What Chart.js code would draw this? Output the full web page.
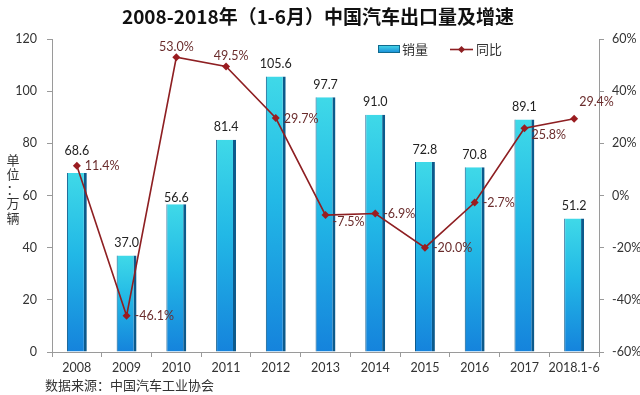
<!DOCTYPE html>
<html><head><meta charset="utf-8">
<script src="https://cdn.jsdelivr.net/npm/chart.js@4.4.0/dist/chart.umd.min.js"></script>
<style>html,body{margin:0;padding:0;background:#fff}#wrap{position:relative;width:640px;height:395px}</style>
</head><body><div id="wrap"><canvas id="c" width="640" height="395"></canvas></div>
<script>
const categories = ['2008','2009','2010','2011','2012','2013','2014','2015','2016','2017','2018.1-6'];
const salesVolume = [68.6, 37.0, 56.6, 81.4, 105.6, 97.7, 91.0, 72.8, 70.8, 89.1, 51.2];
const yoyGrowth = [11.4, -46.1, 53.0, 49.5, 29.7, -7.5, -6.9, -20.0, -2.7, 25.8, 29.4];
const seriesNames = ['销量', '同比'];
const chartTitle = '2008-2018年（1-6月）中国汽车出口量及增速';
const axisUnit = '单位：万辆';
const sourceNote = '数据来源：中国汽车工业协会';

// label placement styling (not data)
const lineLabelPlacement = ['right','right','above','above','right','belowRight','right','right','right','belowRight','aboveRight'];
const barLabelNudge = {0: -10, 2: 6};

const LATIN = 'Lato, "Noto Sans", sans-serif';
const CJK = '"Noto Sans CJK SC", "Noto Sans", sans-serif';

function barFill(ctx) {
  const ch = ctx.chart;
  if (!ch.chartArea || ctx.raw == null) return '#1fa8e0';
  const ys = ch.scales.y;
  const top = ys.getPixelForValue(ctx.raw);
  const bottom = ys.getPixelForValue(0);
  const g = ch.ctx.createLinearGradient(0, top, 0, bottom);
  g.addColorStop(0, '#3fd9e8');
  g.addColorStop(0.45, '#22b8e6');
  g.addColorStop(1, '#1583dc');
  return g;
}

const decor = {
  id: 'decor',
  afterDraw(chart) {
    const c = chart.ctx;
    const xs = chart.scales.x;
    c.save();
    // title
    c.fillStyle = '#111';
    c.font = 'bold 19px ' + CJK;
    c.textAlign = 'center';
    c.textBaseline = 'middle';
    c.fillText(chartTitle, 318, 17);

    // legend
    const lg = c.createLinearGradient(0, 45, 0, 53);
    lg.addColorStop(0, '#48dbe8'); lg.addColorStop(1, '#1689d8');
    c.fillStyle = '#0f6a8e';
    c.fillRect(378, 45, 22, 8);
    c.fillStyle = lg;
    c.fillRect(379, 46, 20, 6);
    c.font = '13px ' + CJK;
    c.fillStyle = '#333';
    c.textAlign = 'left';
    c.fillText(seriesNames[0], 402, 49);
    c.strokeStyle = '#8e1f22';
    c.lineWidth = 1.6;
    c.beginPath(); c.moveTo(450, 49.5); c.lineTo(473, 49.5); c.stroke();
    c.fillStyle = '#8e1f22';
    c.beginPath(); c.moveTo(461.5, 46); c.lineTo(465, 49.5); c.lineTo(461.5, 53); c.lineTo(458, 49.5); c.closePath(); c.fill();
    c.fillStyle = '#333';
    c.fillText(seriesNames[1], 476, 49);

    // axis unit (vertical)
    c.font = '13px ' + CJK;
    c.textAlign = 'center';
    const chars = Array.from(axisUnit);
    chars.forEach((ch, i) => c.fillText(ch, 13, 160 + i * 14.5));

    // source
    c.textAlign = 'left';
    c.fillText(sourceNote, 45, 385);

    // bar labels
    const barMeta = chart.getDatasetMeta(0);
    c.font = '12.5px ' + LATIN;
    c.fillStyle = '#222';
    c.textAlign = 'center';
    barMeta.data.forEach((el, i) => {
      const nudge = barLabelNudge[i] || 0;
      c.fillText(salesVolume[i].toFixed(1), el.x, el.y - 12.5 + nudge);
    });

    // line labels
    const lineMeta = chart.getDatasetMeta(1);
    c.fillStyle = '#6a2c2c';
    lineMeta.data.forEach((el, i) => {
      const t = yoyGrowth[i].toFixed(1) + '%';
      const p = lineLabelPlacement[i];
      if (p === 'right') { c.textAlign = 'left'; c.fillText(t, el.x + 8, el.y + 0.5); }
      else if (p === 'above') { c.textAlign = 'center'; c.fillText(t, el.x + (i === 3 ? 5 : 0), el.y - 10); }
      else if (p === 'belowRight') { c.textAlign = 'left'; c.fillText(t, el.x + 7, el.y + 7); }
      else { c.textAlign = 'left'; c.fillText(t, el.x + 5, el.y - 17); }
    });
    c.restore();
  }
};

new Chart(document.getElementById('c'), {
  type: 'bar',
  data: {
    labels: categories,
    datasets: [
      {
        type: 'bar', label: seriesNames[0], data: salesVolume, yAxisID: 'y', order: 2,
        backgroundColor: barFill,
        borderColor: '#0c5a8c',
        borderWidth: {left: 1, right: 3, top: 0, bottom: 0},
        borderSkipped: false,
        barPercentage: 0.4, categoryPercentage: 1.0
      },
      {
        type: 'line', label: seriesNames[1], data: yoyGrowth, yAxisID: 'y1', order: 1,
        borderColor: '#8e1f22', borderWidth: 1.6, tension: 0,
        pointStyle: 'rectRot', pointRadius: 4, pointBackgroundColor: '#9a1c20', pointBorderColor: '#9a1c20', pointBorderWidth: 0
      }
    ]
  },
  options: {
    responsive: false,
    animation: false,
    devicePixelRatio: 1,
    layout: { padding: { top: 39, left: 0, right: 0, bottom: 0 } },
    plugins: { legend: { display: false }, title: { display: false }, tooltip: { enabled: false } },
    scales: {
      x: {
        grid: { display: true, drawOnChartArea: false, tickLength: 5, color: '#9a9a9a', offset: true },
        border: { color: '#9a9a9a' },
        ticks: { font: { family: LATIN, size: 12.5 }, color: '#333', padding: 3, maxRotation: 0, autoSkip: false },
        afterFit(s) { s.height = 43; }
      },
      y: {
        position: 'left', min: 0, max: 120,
        ticks: { stepSize: 20, font: { family: LATIN, size: 12.5 }, color: '#333', padding: 10 },
        grid: { drawOnChartArea: false, tickLength: 5, color: '#9a9a9a' },
        border: { color: '#9a9a9a' },
        afterFit(s) { s.width = 52; }
      },
      y1: {
        position: 'right', min: -60, max: 60,
        ticks: { stepSize: 20, font: { family: LATIN, size: 12.5 }, color: '#333', padding: 8, callback: v => v + '%' },
        grid: { drawOnChartArea: false, tickLength: 5, color: '#9a9a9a' },
        border: { color: '#9a9a9a' },
        afterFit(s) { s.width = 41; }
      }
    }
  },
  plugins: [decor]
});
</script>
</body></html>
